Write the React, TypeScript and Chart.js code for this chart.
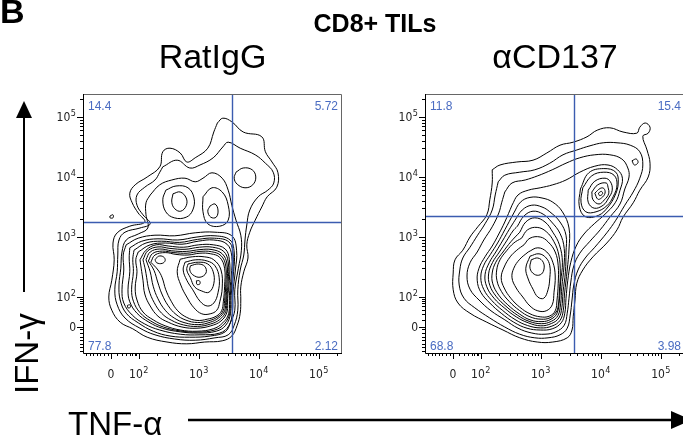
import React, { useEffect, useRef } from "react";
import { Chart, registerables } from "chart.js";

Chart.register(...registerables);

type Pt = [number, number];

// ---------- text ----------
const FIGURE_LETTER = "B";
const FIGURE_TITLE = "CD8+ TILs";
const PANEL_TITLES = ["RatIgG", "\u03b1CD137"];
const X_TITLE = "TNF-\u03b1";
const Y_TITLE = "IFN-\u03b3";

// ---------- axes (display units = decades of a biexponential scale) ----------
const X_MIN = 1.07;
const X_MAX_LEFT = 5.387;
const X_MAX_RIGHT = 5.403;
const Y_MIN = 1.067;
const Y_MAX = 5.383;
const X_MAJOR_TICKS = [1.537, 2, 3, 4, 5];
const Y_MAJOR_TICKS = [1.5, 2, 3, 4, 5];
const MAJOR_LABELS = ["0", "10^2", "10^3", "10^4", "10^5"];
const X_MINOR_TICKS = [
  1.12, 1.18, 1.24, 1.3, 1.36, 1.42, 1.48, 1.63, 1.72, 1.79, 1.85, 1.89, 1.93, 1.96,
  2.3, 2.48, 2.6, 2.7, 2.78, 2.85, 2.9, 2.95, 3.3, 3.48, 3.6, 3.7, 3.78, 3.85, 3.9, 3.95,
  4.3, 4.48, 4.6, 4.7, 4.78, 4.85, 4.9, 4.95, 5.3,
];
const Y_MINOR_TICKS = [
  1.1, 1.16, 1.22, 1.28, 1.34, 1.4, 1.46, 1.62, 1.72, 1.79, 1.85, 1.9, 1.94, 1.97,
  2.3, 2.48, 2.6, 2.7, 2.78, 2.85, 2.9, 2.95, 3.3, 3.48, 3.6, 3.7, 3.78, 3.85, 3.9, 3.95,
  4.3, 4.48, 4.6, 4.7, 4.78, 4.85, 4.9, 4.95, 5.3,
];

// ---------- quadrant gates ----------
const LEFT_GATE: Pt = [3.55, 3.25];
const RIGHT_GATE: Pt = [3.55, 3.35];
const LEFT_QUADRANTS = ["14.4", "5.72", "77.8", "2.12"];
const RIGHT_QUADRANTS = ["11.8", "15.4", "68.8", "3.98"];

// ---------- RatIgG contours ----------
const L_C1: Pt[] = [[3.31,4.9],[3.4,4.98],[3.55,4.92],[3.74,4.75],[4.05,4.67],[4.11,4.42],[4.22,4.25],[4.32,4.07],[4.3,3.83],[4.14,3.67],[4.05,3.5],[3.94,3.28],[3.85,3.08],[3.8,2.87],[3.82,2.65],[3.75,2.42],[3.7,2.17],[3.7,1.95],[3.69,1.73],[3.64,1.53],[3.55,1.35],[3.39,1.27],[3.1,1.25],[2.8,1.22],[2.47,1.25],[2.14,1.33],[1.9,1.47],[1.69,1.58],[1.55,1.78],[1.5,2.0],[1.55,2.28],[1.59,2.62],[1.57,2.9],[1.64,3.07],[1.85,3.18],[2.1,3.25],[1.99,3.4],[1.89,3.57],[1.85,3.73],[1.94,3.87],[2.14,4.0],[2.35,4.17],[2.4,4.42],[2.52,4.48],[2.69,4.4],[2.8,4.25],[2.94,4.32],[3.15,4.48],[3.25,4.75]];
const L_C2: Pt[] = [[2.4,4.17],[2.64,4.28],[2.85,4.15],[3.02,4.2],[3.24,4.32],[3.4,4.5],[3.49,4.58],[3.69,4.48],[3.94,4.37],[4.11,4.23],[4.24,4.08],[4.25,3.9],[4.15,3.78],[3.99,3.67],[3.85,3.45],[3.8,3.2],[3.77,2.95],[3.75,2.7],[3.69,2.45],[3.65,2.12],[3.65,1.78],[3.59,1.53],[3.49,1.37],[3.27,1.32],[2.94,1.28],[2.6,1.3],[2.27,1.37],[2.02,1.48],[1.77,1.65],[1.64,1.87],[1.6,2.12],[1.64,2.42],[1.65,2.7],[1.67,2.95],[1.77,3.08],[2.02,3.15],[2.19,3.22],[2.07,3.37],[1.97,3.53],[1.97,3.7],[2.1,3.83],[2.27,3.95],[2.35,4.08]];
const L_C3: Pt[] = [[2.19,3.7],[2.35,3.87],[2.55,3.95],[2.77,3.98],[2.94,3.92],[3.07,3.98],[3.22,4.07],[3.39,3.98],[3.49,3.78],[3.55,3.53],[3.62,3.28],[3.7,3.03],[3.71,2.78],[3.66,2.48],[3.6,2.12],[3.6,1.78],[3.53,1.58],[3.44,1.42],[3.19,1.35],[2.85,1.33],[2.52,1.35],[2.24,1.43],[1.99,1.57],[1.79,1.73],[1.69,1.95],[1.67,2.2],[1.7,2.48],[1.72,2.75],[1.79,2.95],[1.99,3.05],[2.15,3.15],[2.12,3.37],[2.12,3.57]];
const L_C4: Pt[] = [[1.79,2.87],[1.99,2.98],[2.27,3.03],[2.6,3.02],[2.94,3.07],[3.27,3.08],[3.55,3.02],[3.63,2.78],[3.61,2.45],[3.57,2.08],[3.56,1.75],[3.5,1.52],[3.35,1.4],[3.02,1.37],[2.69,1.38],[2.35,1.45],[2.1,1.55],[1.89,1.7],[1.75,1.9],[1.72,2.12],[1.75,2.45],[1.74,2.7]];
const L_C5: Pt[] = [[1.85,2.82],[2.05,2.93],[2.32,2.97],[2.65,2.95],[2.97,3.0],[3.27,3.02],[3.52,2.95],[3.59,2.75],[3.58,2.42],[3.54,2.03],[3.53,1.73],[3.45,1.53],[3.29,1.43],[2.99,1.4],[2.69,1.42],[2.39,1.48],[2.17,1.58],[1.97,1.73],[1.85,1.92],[1.82,2.12],[1.85,2.42],[1.84,2.65]];
const L_C5B: Pt[] = [[1.92,2.78],[2.12,2.9],[2.38,2.93],[2.68,2.91],[2.98,2.96],[3.26,2.98],[3.5,2.92],[3.57,2.72],[3.56,2.38],[3.525,2.02],[3.515,1.73],[3.425,1.55],[3.265,1.45],[2.98,1.415],[2.69,1.435],[2.41,1.5],[2.2,1.6],[2.02,1.74],[1.91,1.93],[1.88,2.13],[1.91,2.42],[1.9,2.63]];
const L_C6: Pt[] = [[1.99,2.75],[2.19,2.87],[2.44,2.9],[2.72,2.88],[2.99,2.93],[3.25,2.95],[3.47,2.88],[3.55,2.68],[3.54,2.35],[3.51,2.02],[3.5,1.73],[3.4,1.57],[3.24,1.47],[2.97,1.43],[2.69,1.45],[2.44,1.52],[2.24,1.62],[2.07,1.75],[1.97,1.95],[1.94,2.15],[1.97,2.42],[1.95,2.62]];
const L_C7: Pt[] = [[2.02,2.62],[2.12,2.78],[2.29,2.87],[2.49,2.85],[2.75,2.83],[3.0,2.87],[3.24,2.87],[3.44,2.8],[3.51,2.62],[3.51,2.28],[3.48,1.98],[3.47,1.75],[3.37,1.6],[3.2,1.52],[2.97,1.48],[2.72,1.5],[2.49,1.58],[2.32,1.68],[2.19,1.85],[2.1,2.05],[2.07,2.28],[2.04,2.48]];
const L_C7B: Pt[] = [[2.07,2.62],[2.15,2.77],[2.32,2.835],[2.52,2.81],[2.77,2.795],[3.01,2.83],[3.23,2.83],[3.415,2.76],[3.49,2.585],[3.49,2.255],[3.465,1.965],[3.45,1.76],[3.35,1.625],[3.195,1.55],[2.98,1.51],[2.745,1.535],[2.54,1.615],[2.38,1.73],[2.255,1.91],[2.17,2.115],[2.13,2.33],[2.11,2.45]];
const L_C8: Pt[] = [[2.12,2.62],[2.19,2.75],[2.35,2.8],[2.55,2.77],[2.79,2.76],[3.02,2.79],[3.22,2.79],[3.39,2.72],[3.47,2.55],[3.47,2.23],[3.45,1.95],[3.43,1.77],[3.33,1.65],[3.19,1.58],[2.99,1.54],[2.77,1.57],[2.59,1.65],[2.44,1.78],[2.32,1.97],[2.24,2.18],[2.19,2.42]];
const L_C8B: Pt[] = [[2.16,2.6],[2.23,2.725],[2.395,2.765],[2.585,2.74],[2.805,2.73],[3.02,2.76],[3.21,2.755],[3.37,2.69],[3.45,2.515],[3.45,2.205],[3.43,1.94],[3.405,1.77],[3.31,1.665],[3.165,1.605],[2.98,1.575],[2.785,1.615],[2.62,1.71],[2.49,1.855],[2.385,2.05],[2.315,2.25],[2.255,2.44]];
const L_C9: Pt[] = [[2.2,2.58],[2.27,2.7],[2.44,2.74],[2.62,2.71],[2.82,2.7],[3.02,2.73],[3.2,2.72],[3.35,2.66],[3.43,2.48],[3.43,2.18],[3.41,1.93],[3.38,1.77],[3.29,1.68],[3.14,1.63],[2.97,1.61],[2.8,1.66],[2.65,1.77],[2.54,1.93],[2.45,2.12],[2.39,2.32],[2.32,2.45]];
const L_C10: Pt[] = [[2.69,2.63],[2.89,2.67],[3.09,2.67],[3.25,2.62],[3.37,2.45],[3.39,2.15],[3.35,1.92],[3.3,1.78],[3.19,1.72],[3.05,1.72],[2.92,1.82],[2.8,2.0],[2.7,2.2],[2.64,2.42]];
const L_C10B: Pt[] = [[2.27,2.62],[2.33,2.68],[2.41,2.67],[2.44,2.61],[2.39,2.56],[2.3,2.57]];
const L_C11: Pt[] = [[2.77,2.58],[2.95,2.62],[3.14,2.6],[3.27,2.52],[3.34,2.32],[3.32,2.07],[3.25,1.9],[3.14,1.85],[3.02,1.93],[2.9,2.12],[2.8,2.28],[2.74,2.45]];
const L_C12: Pt[] = [[2.82,2.55],[2.99,2.58],[3.15,2.55],[3.24,2.42],[3.25,2.22],[3.17,2.08],[3.05,2.1],[2.93,2.17],[2.86,2.32],[2.8,2.45]];
const L_C13: Pt[] = [[2.86,2.52],[2.99,2.55],[3.1,2.51],[3.12,2.4],[3.02,2.33],[2.9,2.37],[2.85,2.45]];
const L_C14: Pt[] = [[2.96,2.27],[3.01,2.27],[3.02,2.22],[2.97,2.21]];
const L_U1: Pt[] = [[2.45,3.78],[2.62,3.85],[2.82,3.82],[2.92,3.65],[2.9,3.45],[2.79,3.33],[2.59,3.32],[2.45,3.42],[2.4,3.62]];
const L_U2: Pt[] = [[2.57,3.72],[2.69,3.75],[2.79,3.65],[2.79,3.52],[2.7,3.43],[2.6,3.47],[2.55,3.58]];
const L_U3: Pt[] = [[3.07,3.67],[3.22,3.82],[3.39,3.75],[3.49,3.53],[3.49,3.28],[3.35,3.18],[3.15,3.22],[3.07,3.42]];
const L_U4: Pt[] = [[3.19,3.52],[3.27,3.55],[3.32,3.45],[3.29,3.33],[3.2,3.33],[3.15,3.43]];
const L_U5: Pt[] = [[3.62,4.08],[3.74,4.15],[3.89,4.12],[3.95,4.0],[3.9,3.87],[3.77,3.82],[3.64,3.88],[3.59,3.98]];
const L_DOT1: Pt[] = [[1.52,3.35],[1.57,3.37],[1.57,3.32],[1.52,3.32]];
const L_DOT2: Pt[] = [[1.81,1.86],[1.85,1.87],[1.86,1.83],[1.82,1.82]];

// ---------- aCD137 contours ----------
const R_C1: Pt[] = [[2.19,4.12],[2.32,4.2],[2.6,4.25],[2.87,4.28],[3.1,4.4],[3.32,4.53],[3.54,4.58],[3.77,4.67],[3.94,4.78],[4.15,4.82],[4.37,4.75],[4.6,4.73],[4.65,4.83],[4.74,4.9],[4.82,4.83],[4.79,4.73],[4.7,4.68],[4.77,4.45],[4.82,4.23],[4.79,4.0],[4.65,3.78],[4.54,3.57],[4.37,3.33],[4.27,3.12],[4.1,2.9],[3.87,2.67],[3.7,2.45],[3.6,2.23],[3.57,1.95],[3.54,1.67],[3.52,1.45],[3.44,1.32],[3.2,1.25],[2.94,1.25],[2.65,1.32],[2.37,1.45],[2.1,1.58],[1.82,1.73],[1.62,1.9],[1.54,2.12],[1.54,2.4],[1.57,2.62],[1.7,2.78],[1.82,3.0],[1.95,3.17],[2.1,3.37],[2.15,3.62],[2.19,3.9]];
const R_C2: Pt[] = [[2.29,3.92],[2.4,4.03],[2.65,4.08],[2.9,4.12],[3.15,4.23],[3.37,4.37],[3.6,4.45],[3.82,4.52],[4.04,4.57],[4.27,4.57],[4.49,4.53],[4.65,4.42],[4.7,4.2],[4.65,3.98],[4.54,3.75],[4.4,3.53],[4.25,3.28],[4.1,3.07],[3.9,2.83],[3.74,2.65],[3.62,2.45],[3.55,2.2],[3.52,1.95],[3.49,1.7],[3.44,1.48],[3.32,1.37],[3.12,1.32],[2.9,1.32],[2.65,1.38],[2.4,1.5],[2.15,1.65],[1.9,1.82],[1.72,1.98],[1.64,2.2],[1.65,2.45],[1.7,2.65],[1.82,2.83],[1.94,3.02],[2.07,3.22],[2.19,3.45],[2.24,3.7]];
const R_C3: Pt[] = [[2.4,3.75],[2.52,3.9],[2.74,3.95],[2.95,4.02],[3.19,4.12],[3.42,4.23],[3.65,4.32],[3.9,4.37],[4.15,4.37],[4.35,4.3],[4.45,4.15],[4.47,4.0],[4.4,3.8],[4.32,3.55],[4.15,3.33],[3.99,3.12],[3.82,2.93],[3.65,2.73],[3.55,2.52],[3.5,2.25],[3.47,1.98],[3.44,1.73],[3.39,1.53],[3.25,1.42],[3.07,1.38],[2.85,1.4],[2.62,1.48],[2.4,1.62],[2.17,1.77],[1.97,1.95],[1.82,2.13],[1.77,2.35],[1.82,2.57],[1.94,2.75],[2.05,2.95],[2.19,3.17],[2.3,3.4],[2.35,3.58]];
const R_C4: Pt[] = [[2.52,3.53],[2.62,3.7],[2.79,3.78],[2.99,3.82],[3.2,3.87],[3.42,3.95],[3.65,4.08],[3.9,4.18],[4.12,4.2],[4.28,4.12],[4.36,3.98],[4.32,3.78],[4.24,3.57],[4.07,3.38],[3.89,3.22],[3.72,3.05],[3.59,2.85],[3.5,2.58],[3.45,2.28],[3.42,1.98],[3.4,1.73],[3.34,1.57],[3.19,1.47],[2.99,1.45],[2.77,1.48],[2.55,1.58],[2.34,1.73],[2.15,1.9],[2.0,2.08],[1.94,2.28],[1.97,2.48],[2.07,2.67],[2.19,2.85],[2.3,3.05],[2.4,3.25]];
const R_C4B: Pt[] = [[2.55,3.4],[2.66,3.58],[2.82,3.66],[3.02,3.65],[3.2,3.58],[3.36,3.42],[3.47,3.15],[3.47,2.8],[3.44,2.45],[3.395,2.05],[3.375,1.78],[3.32,1.61],[3.185,1.515],[2.995,1.485],[2.78,1.525],[2.57,1.625],[2.365,1.775],[2.185,1.94],[2.05,2.125],[2.0,2.33],[2.05,2.53],[2.16,2.71],[2.28,2.9],[2.4,3.12]];
const R_C5: Pt[] = [[2.57,3.28],[2.69,3.45],[2.85,3.53],[3.02,3.5],[3.15,3.42],[3.32,3.25],[3.42,3.03],[3.42,2.75],[3.41,2.42],[3.37,2.08],[3.35,1.82],[3.3,1.65],[3.18,1.56],[3.0,1.52],[2.79,1.57],[2.59,1.67],[2.39,1.82],[2.22,1.98],[2.1,2.17],[2.07,2.37],[2.14,2.57],[2.25,2.75],[2.37,2.95],[2.47,3.12]];
const R_C5B: Pt[] = [[2.61,3.18],[2.72,3.35],[2.87,3.43],[3.04,3.38],[3.18,3.25],[3.32,3.06],[3.39,2.81],[3.385,2.5],[3.35,2.165],[3.33,1.885],[3.285,1.69],[3.175,1.595],[3.01,1.555],[2.805,1.595],[2.615,1.695],[2.42,1.845],[2.26,2.005],[2.15,2.195],[2.13,2.385],[2.195,2.575],[2.31,2.75],[2.43,2.935],[2.535,3.1]];
const R_C6: Pt[] = [[2.65,3.08],[2.75,3.25],[2.9,3.32],[3.07,3.25],[3.2,3.08],[3.31,2.87],[3.36,2.58],[3.33,2.25],[3.31,1.95],[3.27,1.73],[3.17,1.63],[3.02,1.59],[2.82,1.62],[2.64,1.72],[2.45,1.87],[2.3,2.03],[2.2,2.22],[2.19,2.4],[2.25,2.58],[2.37,2.75],[2.5,2.92]];
const R_C6B: Pt[] = [[2.68,2.98],[2.78,3.12],[2.94,3.16],[3.09,3.09],[3.22,2.92],[3.3,2.7],[3.325,2.4],[3.31,2.1],[3.29,1.85],[3.255,1.75],[3.155,1.655],[3.005,1.63],[2.82,1.67],[2.645,1.775],[2.475,1.925],[2.345,2.09],[2.27,2.27],[2.265,2.45],[2.32,2.62],[2.43,2.77],[2.55,2.9]];
const R_C7: Pt[] = [[2.72,2.87],[2.82,2.98],[2.99,3.0],[3.12,2.92],[3.24,2.75],[3.29,2.52],[3.29,2.22],[3.27,1.95],[3.24,1.77],[3.14,1.68],[2.99,1.67],[2.82,1.72],[2.65,1.83],[2.5,1.98],[2.39,2.15],[2.34,2.32],[2.39,2.5],[2.49,2.67],[2.6,2.78]];
const R_C8: Pt[] = [[2.79,2.75],[2.95,2.82],[3.1,2.75],[3.2,2.58],[3.24,2.35],[3.22,2.08],[3.19,1.87],[3.09,1.77],[2.95,1.77],[2.82,1.85],[2.7,2.0],[2.59,2.15],[2.52,2.32],[2.55,2.48],[2.65,2.63]];
const R_C9: Pt[] = [[2.82,2.68],[2.97,2.72],[3.09,2.65],[3.15,2.52],[3.15,2.32],[3.12,2.12],[3.05,1.98],[2.95,2.0],[2.87,2.13],[2.79,2.3],[2.75,2.48]];
const R_C10: Pt[] = [[2.84,2.62],[2.95,2.65],[3.04,2.58],[3.05,2.45],[2.99,2.37],[2.89,2.38],[2.82,2.48]];
const R_U4: Pt[] = [[3.66,3.8],[3.8,4.07],[4.05,4.14],[4.25,4.08],[4.29,3.9],[4.24,3.7],[4.12,3.5],[3.96,3.36],[3.74,3.34],[3.64,3.52]];
const R_U5: Pt[] = [[3.7,3.82],[3.85,4.02],[4.05,4.08],[4.22,4.03],[4.27,3.87],[4.21,3.68],[4.1,3.52],[3.92,3.42],[3.75,3.42],[3.67,3.58]];
const R_U6: Pt[] = [[3.79,3.78],[3.9,3.93],[4.07,3.98],[4.16,3.92],[4.19,3.78],[4.13,3.65],[4.04,3.53],[3.89,3.48],[3.79,3.58]];
const R_U7: Pt[] = [[3.85,3.75],[3.95,3.87],[4.09,3.9],[4.12,3.83],[4.13,3.72],[4.06,3.62],[3.97,3.55],[3.87,3.62]];
const R_U8: Pt[] = [[3.9,3.73],[3.99,3.81],[4.05,3.81],[4.07,3.73],[4.01,3.65],[3.95,3.63]];
const R_U9: Pt[] = [[3.96,3.73],[4.01,3.76],[4.03,3.72],[3.98,3.69]];
const R_DOT1: Pt[] = [[4.52,4.27],[4.59,4.3],[4.62,4.24],[4.56,4.2]];

const LEFT_CONTOURS: Pt[][] = [L_C1, L_C2, L_C3, L_C4, L_C5, L_C5B, L_C6, L_C7, L_C7B, L_C8, L_C8B, L_C9, L_C10, L_C10B, L_C11, L_C12, L_C13, L_C14, L_U1, L_U2, L_U3, L_U4, L_U5, L_DOT1, L_DOT2];
const RIGHT_CONTOURS: Pt[][] = [R_C1, R_C2, R_C3, R_C4, R_C4B, R_C5, R_C5B, R_C6, R_C6B, R_C7, R_C8, R_C9, R_C10, R_U4, R_U5, R_U6, R_U7, R_U8, R_U9, R_DOT1];

// ---------- styles ----------
const SANS = "'Liberation Sans', Arial, Helvetica, sans-serif";
const NARROW = "'Liberation Sans Narrow', 'DejaVu Sans Condensed', 'Liberation Sans', Arial, sans-serif";
const GATE_COLOR = "#3b5cb0";
const QUAD_TEXT = "#4a6cc2";

function drawPow(ctx: CanvasRenderingContext2D, label: string, x: number, baseline: number, align: "center" | "right") {
  const [b, e] = label.split("^");
  ctx.font = `12px ${NARROW}`;
  const wb = ctx.measureText(b).width;
  let we = 0;
  if (e) {
    ctx.font = `9px ${NARROW}`;
    we = ctx.measureText(e).width + 0.5;
  }
  const total = wb + we;
  const x0 = align === "center" ? x - total / 2 : x - total;
  ctx.textAlign = "left";
  ctx.textBaseline = "alphabetic";
  ctx.font = `12px ${NARROW}`;
  ctx.fillText(b, x0, baseline);
  if (e) {
    ctx.font = `9px ${NARROW}`;
    ctx.fillText(e, x0 + wb + 0.5, baseline - 5);
  }
}

function labelBox(ctx: CanvasRenderingContext2D, text: string, x: number, baseline: number, align: "left" | "right") {
  ctx.font = `12px ${SANS}`;
  const w = ctx.measureText(text).width;
  const left = align === "left" ? x : x - w;
  ctx.fillStyle = "#fff";
  ctx.fillRect(left - 1, baseline - 10, w + 2, 13);
  ctx.fillStyle = QUAD_TEXT;
  ctx.textAlign = "left";
  ctx.textBaseline = "alphabetic";
  ctx.fillText(text, left, baseline);
}

function makePanelPlugin(title: string, gate: Pt, quads: string[], decorate: boolean) {
  return {
    id: "flowPanel",
    afterDatasetsDraw(chart: any) {
      const { ctx, chartArea: a, scales } = chart;
      const xs = scales.x;
      const ys = scales.y;
      ctx.save();
      // quadrant gate
      const gx = Math.round(xs.getPixelForValue(gate[0])) + 0.5;
      const gy = Math.round(ys.getPixelForValue(gate[1])) + 0.5;
      ctx.strokeStyle = GATE_COLOR;
      ctx.lineWidth = 1.4;
      ctx.beginPath();
      ctx.moveTo(gx, a.top);
      ctx.lineTo(gx, a.bottom);
      ctx.moveTo(a.left, gy);
      ctx.lineTo(a.right, gy);
      ctx.stroke();
      // frame
      ctx.lineWidth = 1;
      ctx.strokeStyle = "#666";
      ctx.beginPath();
      ctx.moveTo(a.left, a.top + 0.5);
      ctx.lineTo(a.right - 0.5, a.top + 0.5);
      ctx.lineTo(a.right - 0.5, a.bottom);
      ctx.stroke();
      ctx.strokeStyle = "#000";
      ctx.beginPath();
      ctx.moveTo(a.left + 0.5, a.top);
      ctx.lineTo(a.left + 0.5, a.bottom + 0.5);
      ctx.lineTo(a.right, a.bottom + 0.5);
      ctx.stroke();
      // ticks
      ctx.beginPath();
      const xTick = (v: number, len: number) => {
        if (v < xs.min || v > xs.max) return;
        const px = Math.round(xs.getPixelForValue(v)) + 0.5;
        ctx.moveTo(px, a.bottom);
        ctx.lineTo(px, a.bottom + len);
      };
      const yTick = (v: number, len: number) => {
        if (v < ys.min || v > ys.max) return;
        const py = Math.round(ys.getPixelForValue(v)) + 0.5;
        ctx.moveTo(a.left, py);
        ctx.lineTo(a.left - len, py);
      };
      X_MINOR_TICKS.forEach((v) => xTick(v, 3));
      X_MAJOR_TICKS.forEach((v) => xTick(v, 6));
      Y_MINOR_TICKS.forEach((v) => yTick(v, 3));
      Y_MAJOR_TICKS.forEach((v) => yTick(v, 6));
      ctx.stroke();
      // tick labels
      ctx.fillStyle = "#222";
      X_MAJOR_TICKS.forEach((v, i) => drawPow(ctx, MAJOR_LABELS[i], xs.getPixelForValue(v), a.bottom + 25, "center"));
      Y_MAJOR_TICKS.forEach((v, i) => {
        ctx.fillStyle = "#222";
        drawPow(ctx, MAJOR_LABELS[i], a.left - 7, ys.getPixelForValue(v) + 4, "right");
      });
      // quadrant frequencies
      labelBox(ctx, quads[0], a.left + 5, a.top + 16, "left");
      labelBox(ctx, quads[1], a.right - 4, a.top + 16, "right");
      labelBox(ctx, quads[2], a.left + 5, a.bottom - 3, "left");
      labelBox(ctx, quads[3], a.right - 4, a.bottom - 3, "right");
      // panel title
      ctx.fillStyle = "#000";
      ctx.font = `34px ${SANS}`;
      ctx.textAlign = "center";
      ctx.textBaseline = "alphabetic";
      ctx.fillText(title, (a.left + a.right) / 2, 68);

      if (decorate) {
        ctx.textAlign = "left";
        ctx.font = `bold 34px ${SANS}`;
        ctx.fillText(FIGURE_LETTER, 0, 23);
        ctx.textAlign = "center";
        ctx.font = `bold 25px ${SANS}`;
        ctx.fillText(FIGURE_TITLE, 375, 32);
        // x axis title + arrow
        ctx.textAlign = "left";
        ctx.font = `33px ${SANS}`;
        ctx.fillText(X_TITLE, 68, 435);
        ctx.strokeStyle = "#000";
        ctx.lineWidth = 2.5;
        ctx.beginPath();
        ctx.moveTo(188, 420);
        ctx.lineTo(674, 420);
        ctx.stroke();
        ctx.beginPath();
        ctx.moveTo(692, 420);
        ctx.lineTo(671, 411);
        ctx.lineTo(671, 429);
        ctx.closePath();
        ctx.fill();
        // y axis title + arrow
        ctx.save();
        ctx.translate(38, 394);
        ctx.rotate(-Math.PI / 2);
        ctx.font = `33px ${SANS}`;
        ctx.textAlign = "left";
        ctx.fillText(Y_TITLE, 0, 0);
        ctx.restore();
        ctx.lineWidth = 2;
        ctx.beginPath();
        ctx.moveTo(24, 292);
        ctx.lineTo(24, 114);
        ctx.stroke();
        ctx.beginPath();
        ctx.moveTo(24, 101);
        ctx.lineTo(16, 118);
        ctx.lineTo(32, 118);
        ctx.closePath();
        ctx.fill();
      }
      ctx.restore();
    },
  };
}

function buildConfig(contours: Pt[][], xMax: number, padRight: number, plugin: any): any {
  return {
    type: "scatter",
    data: {
      datasets: contours.map((c) => ({
        data: [...c, c[0]].map(([x, y]) => ({ x, y })),
        showLine: true,
        borderColor: "#000",
        borderWidth: 1,
        pointRadius: 0,
        pointHoverRadius: 0,
        tension: 0.4,
        fill: false,
      })),
    },
    options: {
      animation: false,
      responsive: false,
      maintainAspectRatio: false,
      events: [],
      layout: { padding: { left: 83, right: padRight, top: 94, bottom: 86 } },
      scales: {
        x: { type: "linear", min: X_MIN, max: xMax, display: false },
        y: { type: "linear", min: Y_MIN, max: Y_MAX, display: false },
      },
      plugins: { legend: { display: false }, tooltip: { enabled: false } },
    },
    plugins: [plugin],
  };
}

export default function App() {
  const leftRef = useRef<HTMLCanvasElement | null>(null);
  const rightRef = useRef<HTMLCanvasElement | null>(null);

  useEffect(() => {
    const charts: Chart[] = [];
    if (leftRef.current) {
      charts.push(
        new Chart(
          leftRef.current,
          buildConfig(LEFT_CONTOURS, X_MAX_LEFT, 341, makePanelPlugin(PANEL_TITLES[0], LEFT_GATE, LEFT_QUADRANTS, true))
        )
      );
    }
    if (rightRef.current) {
      charts.push(
        new Chart(
          rightRef.current,
          buildConfig(RIGHT_CONTOURS, X_MAX_RIGHT, 7, makePanelPlugin(PANEL_TITLES[1], RIGHT_GATE, RIGHT_QUADRANTS, false))
        )
      );
    }
    return () => charts.forEach((c) => c.destroy());
  }, []);

  return (
    <div style={{ position: "fixed", left: 0, top: 0, width: 683, height: 439, overflow: "hidden", background: "#fff" }}>
      <canvas ref={leftRef} width={683} height={439} style={{ position: "absolute", left: 0, top: 0, width: 683, height: 439 }} />
      <canvas ref={rightRef} width={350} height={439} style={{ position: "absolute", left: 342, top: 0, width: 350, height: 439 }} />
    </div>
  );
}
